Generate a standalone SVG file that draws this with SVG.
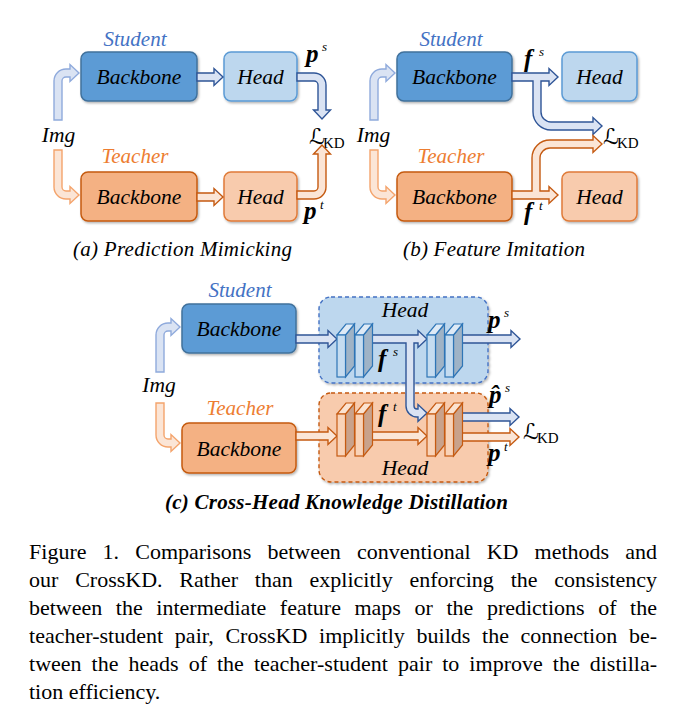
<svg xmlns="http://www.w3.org/2000/svg" width="685" height="715" viewBox="0 0 685 715" font-family="'Liberation Serif', 'Times New Roman', 'DejaVu Serif', serif">
<defs>
<filter id="sh" x="-10%" y="-10%" width="130%" height="140%">
<feDropShadow dx="1.2" dy="1.5" stdDeviation="1.2" flood-color="#000" flood-opacity="0.3"/>
</filter>
</defs>
<style>
text{fill:#000}
.it{font-style:italic;font-size:21.5px}
.mid{text-anchor:middle}
.stu{font-style:italic;font-size:21px;fill:#4472c4}
.tea{font-style:italic;font-size:21px;fill:#ed7d31}
.bi{font-style:italic;font-weight:bold;font-size:25px}
.sup{font-style:italic;font-size:13px}
.L{font-family:'DejaVu Serif','DejaVu Sans',serif;font-size:22px}
.kd{font-size:15px}
.cap{font-style:italic;font-size:21px}
.capb{font-style:italic;font-weight:bold;font-size:21px}
.main{font-size:22px}
.sb{fill:#5b9bd5;stroke:#41719c;stroke-width:1.5}
.sh{fill:#bdd7ee;stroke:#5b9bd5;stroke-width:1.5}
.tb{fill:#f4b183;stroke:#c55a11;stroke-width:1.5}
.th{fill:#f8cbad;stroke:#e07b39;stroke-width:1.5}
.ab{fill:#dae3f3;stroke:#2f5597;stroke-width:1.4}
.abl{fill:#dae3f3;stroke:#8faadc;stroke-width:1.4}
.ao{fill:#fbe5d6;stroke:#c55a11;stroke-width:1.4}
.aol{fill:#fbe5d6;stroke:#f4a46c;stroke-width:1.4}
.dsb{fill:#bdd7ee;stroke:#4472c4;stroke-width:1.4;stroke-dasharray:4 3}
.dtb{fill:#f8cbad;stroke:#c55a11;stroke-width:1.4;stroke-dasharray:4 3}
.bf-s{fill:#c5dcf0;stroke:#2e75b6;stroke-width:1.2}
.bt-s{fill:#deeaf6;stroke:#2e75b6;stroke-width:1.2}
.bs-s{fill:#9fb3c6;stroke:#2e75b6;stroke-width:1.2}
.bf-t{fill:#f9d3b8;stroke:#c55a11;stroke-width:1.2}
.bt-t{fill:#fbe3d1;stroke:#c55a11;stroke-width:1.2}
.bs-t{fill:#c9a28b;stroke:#c55a11;stroke-width:1.2}
</style>

<!-- ===== Panel (a) ===== -->
<g id="a-nodes">
<g id="a-student-label"><text class="stu mid" x="135" y="46">Student</text></g>
<g id="a-s-backbone"><rect class="sb" x="81" y="52" width="116" height="49" rx="7" filter="url(#sh)"/><text class="it mid" x="139" y="84">Backbone</text></g>
<g id="a-s-head"><rect class="sh" x="224" y="52" width="73" height="49" rx="7" filter="url(#sh)"/><text class="it mid" x="260.5" y="84">Head</text></g>
<g id="a-teacher-label"><text class="tea mid" x="135" y="163">Teacher</text></g>
<g id="a-t-backbone"><rect class="tb" x="81" y="172" width="116" height="49" rx="7" filter="url(#sh)"/><text class="it mid" x="139" y="204">Backbone</text></g>
<g id="a-t-head"><rect class="th" x="224" y="172" width="73" height="49" rx="7" filter="url(#sh)"/><text class="it mid" x="260.5" y="204">Head</text></g>
<g id="a-img"><text class="it mid" x="58.5" y="142">Img</text></g>
<g id="a-lkd"><text class="L" x="309" y="144">ℒ</text><text class="kd" x="323" y="148">KD</text></g>
<g id="a-ps"><text class="bi" x="306" y="62">p</text><text class="sup" x="322" y="51">s</text></g>
<g id="a-pt"><text class="bi" x="304" y="219">p</text><text class="sup" x="320" y="209">t</text></g>
</g>
<g id="a-connectors">
<path class="abl" d="M54,120 L54,81 A12,12 0 0 1 66,69 L70,69 L70,64.5 L79,73 L70,81.5 L70,77 L66,77 A4,4 0 0 0 62,81 L62,120 Z"/>
<path class="aol" d="M54,150 L54,187 A12,12 0 0 0 66,199 L70,199 L70,203.5 L79,195 L70,186.5 L70,191 L66,191 A4,4 0 0 1 62,187 L62,150 Z"/>
<path class="ab" d="M197,73 L214,73 L214,68.5 L223,77 L214,85.5 L214,81 L197,81 Z"/>
<path class="ao" d="M197,193 L214,193 L214,188.5 L223,197 L214,205.5 L214,201 L197,201 Z"/>
<path class="ab" d="M297,73 L314,73 A12,12 0 0 1 326,85 L326,110 L330.5,110 L322,119 L313.5,110 L318,110 L318,85 A4,4 0 0 0 314,81 L297,81 Z"/>
<path class="ao" d="M297,199 L314,199 A12,12 0 0 0 326,187 L326,154 L330.5,154 L322,145 L313.5,154 L318,154 L318,187 A4,4 0 0 1 314,191 L297,191 Z"/>
</g>
<text class="cap mid" x="182.5" y="256" textLength="219" lengthAdjust="spacing">(a) Prediction Mimicking</text>

<!-- ===== Panel (b) ===== -->
<g id="b-nodes">
<g id="b-student-label"><text class="stu mid" x="451" y="46">Student</text></g>
<g id="b-s-backbone"><rect class="sb" x="397" y="52" width="115" height="49" rx="7" filter="url(#sh)"/><text class="it mid" x="454.5" y="84">Backbone</text></g>
<g id="b-s-head"><rect class="sh" x="562" y="52" width="75" height="49" rx="7" filter="url(#sh)"/><text class="it mid" x="599.5" y="84">Head</text></g>
<g id="b-teacher-label"><text class="tea mid" x="451" y="163">Teacher</text></g>
<g id="b-t-backbone"><rect class="tb" x="397" y="172" width="115" height="49" rx="7" filter="url(#sh)"/><text class="it mid" x="454.5" y="204">Backbone</text></g>
<g id="b-t-head"><rect class="th" x="562" y="172" width="75" height="49" rx="7" filter="url(#sh)"/><text class="it mid" x="599.5" y="204">Head</text></g>
<g id="b-img"><text class="it mid" x="373.5" y="142">Img</text></g>
<g id="b-lkd"><text class="L" x="603" y="144">ℒ</text><text class="kd" x="617" y="148">KD</text></g>
<g id="b-fs"><text class="bi" x="524" y="67">f</text><text class="sup" x="539" y="56">s</text></g>
<g id="b-ft"><text class="bi" x="524" y="220">f</text><text class="sup" x="539" y="210">t</text></g>
</g>
<g id="b-connectors">
<path class="abl" d="M370,120 L370,81 A12,12 0 0 1 382,69 L386,69 L386,64.5 L395,73 L386,81.5 L386,77 L382,77 A4,4 0 0 0 378,81 L378,120 Z"/>
<path class="aol" d="M370,150 L370,187 A12,12 0 0 0 382,199 L386,199 L386,203.5 L395,195 L386,186.5 L386,191 L382,191 A4,4 0 0 1 378,187 L378,150 Z"/>
<path class="ab" d="M512,73 L549,73 L549,68.5 L558,77 L549,85.5 L549,81 L541,81 L541,112 A10,10 0 0 0 551,122 L593,122 L593,117.5 L602,126 L593,134.5 L593,130 L551,130 A18,18 0 0 1 533,112 L533,81 L512,81 Z"/>
<path class="ao" d="M512,199 L549,199 L549,203.5 L558,195 L549,186.5 L549,191 L540,191 L540,158 A10,10 0 0 1 550,148 L593,148 L593,152.5 L602,144 L593,135.5 L593,140 L550,140 A18,18 0 0 0 532,158 L532,191 L512,191 Z"/>
</g>
<text class="cap mid" x="494" y="256" textLength="182" lengthAdjust="spacing">(b) Feature Imitation</text>

<!-- ===== Panel (c) ===== -->
<g id="c-head-boxes">
<g id="c-s-headbox"><rect class="dsb" x="319" y="297" width="169" height="86" rx="12" filter="url(#sh)"/><text class="it mid" x="405" y="317">Head</text></g>
<g id="c-t-headbox"><rect class="dtb" x="319" y="393" width="169" height="89" rx="12" filter="url(#sh)"/><text class="it mid" x="405" y="475">Head</text></g>
</g>
<g id="c-nodes">
<g id="c-student-label"><text class="stu mid" x="240" y="297">Student</text></g>
<g id="c-s-backbone"><rect class="sb" x="182" y="304" width="114" height="49" rx="7" filter="url(#sh)"/><text class="it mid" x="239" y="336">Backbone</text></g>
<g id="c-teacher-label"><text class="tea mid" x="240" y="415">Teacher</text></g>
<g id="c-t-backbone"><rect class="tb" x="182" y="423" width="114" height="50" rx="7" filter="url(#sh)"/><text class="it mid" x="239" y="456">Backbone</text></g>
<g id="c-img"><text class="it mid" x="159" y="392">Img</text></g>
<g id="c-lkd"><text class="L" x="523" y="439">ℒ</text><text class="kd" x="537" y="443">KD</text></g>
<g id="c-ps"><text class="bi" x="488" y="328">p</text><text class="sup" x="504" y="317">s</text></g>
<g id="c-phs"><text class="bi" x="489" y="403">p̂</text><text class="sup" x="505" y="392">s</text></g>
<g id="c-pt"><text class="bi" x="488" y="461">p</text><text class="sup" x="504" y="451">t</text></g>
<g id="c-fs"><text class="bi" x="378" y="367">f</text><text class="sup" x="393" y="356">s</text></g>
<g id="c-ft"><text class="bi" x="378" y="422">f</text><text class="sup" x="393" y="411">t</text></g>
</g>
<g id="c-connectors">
<path class="abl" d="M156,372 L156,335 A12,12 0 0 1 168,323 L171,323 L171,318.5 L180,327 L171,335.5 L171,331 L168,331 A4,4 0 0 0 164,335 L164,372 Z"/>
<path class="aol" d="M156,403 L156,435 A12,12 0 0 0 168,447 L171,447 L171,451.5 L180,443 L171,434.5 L171,439 L168,439 A4,4 0 0 1 164,435 L164,403 Z"/>
<path class="ab" d="M296,335 L328,335 L328,330.5 L337,339 L328,347.5 L328,343 L296,343 Z"/>
<path class="ao" d="M296,432 L328,432 L328,427.5 L337,436 L328,444.5 L328,440 L296,440 Z"/>
<path class="ab" d="M366,335 L418,335 L418,330.5 L427,339 L418,347.5 L418,343 L414,343 L414,406 A3,3 0 0 0 417,409 L418,409 L418,404.5 L427,413 L418,421.5 L418,417 L417,417 A11,11 0 0 1 406,406 L406,343 L366,343 Z"/>
<path class="ao" d="M366,432 L418,432 L418,427.5 L427,436 L418,444.5 L418,440 L366,440 Z"/>
<path class="ab" d="M458,335 L511,335 L511,330.5 L520,339 L511,347.5 L511,343 L458,343 Z"/>
<path class="ab" d="M458,413 L510,413 L510,408.5 L519,417 L510,425.5 L510,421 L458,421 Z"/>
<path class="ao" d="M458,433 L510,433 L510,428.5 L519,437 L510,445.5 L510,441 L458,441 Z"/>
</g>
<g id="c-blocks">
<g id="c-s-block1"><polygon class="bs-s" points="345.5,335 354.5,324 354.5,366 345.5,377"/><polygon class="bt-s" points="337,335 346,324 354.5,324 345.5,335"/><rect class="bf-s" x="337" y="335" width="8.5" height="42"/></g>
<g id="c-s-block2"><polygon class="bs-s" points="363.5,335 372.5,324 372.5,366 363.5,377"/><polygon class="bt-s" points="355,335 364,324 372.5,324 363.5,335"/><rect class="bf-s" x="355" y="335" width="8.5" height="42"/></g>
<g id="c-s-block3"><polygon class="bs-s" points="435.5,335 444.5,324 444.5,366 435.5,377"/><polygon class="bt-s" points="427,335 436,324 444.5,324 435.5,335"/><rect class="bf-s" x="427" y="335" width="8.5" height="42"/></g>
<g id="c-s-block4"><polygon class="bs-s" points="453.5,335 462.5,324 462.5,366 453.5,377"/><polygon class="bt-s" points="445,335 454,324 462.5,324 453.5,335"/><rect class="bf-s" x="445" y="335" width="8.5" height="42"/></g>
<g id="c-t-block1"><polygon class="bs-t" points="345.5,414 354.5,403 354.5,445 345.5,456"/><polygon class="bt-t" points="337,414 346,403 354.5,403 345.5,414"/><rect class="bf-t" x="337" y="414" width="8.5" height="42"/></g>
<g id="c-t-block2"><polygon class="bs-t" points="363.5,414 372.5,403 372.5,445 363.5,456"/><polygon class="bt-t" points="355,414 364,403 372.5,403 363.5,414"/><rect class="bf-t" x="355" y="414" width="8.5" height="42"/></g>
<g id="c-t-block3"><polygon class="bs-t" points="435.5,414 444.5,403 444.5,445 435.5,456"/><polygon class="bt-t" points="427,414 436,403 444.5,403 435.5,414"/><rect class="bf-t" x="427" y="414" width="8.5" height="42"/></g>
<g id="c-t-block4"><polygon class="bs-t" points="453.5,414 462.5,403 462.5,445 453.5,456"/><polygon class="bt-t" points="445,414 454,403 462.5,403 453.5,414"/><rect class="bf-t" x="445" y="414" width="8.5" height="42"/></g>
</g>
<text class="capb mid" x="336.5" y="509" textLength="343" lengthAdjust="spacing">(c) Cross-Head Knowledge Distillation</text>

<!-- ===== Caption ===== -->
<g id="caption">
<text class="main" x="29" y="559" word-spacing="10.6" textLength="628" lengthAdjust="spacing">Figure 1. Comparisons between conventional KD methods and</text>
<text class="main" x="29" y="587" word-spacing="11.3" textLength="628" lengthAdjust="spacing">our CrossKD. Rather than explicitly enforcing the consistency</text>
<text class="main" x="29" y="615" word-spacing="8.1" textLength="628" lengthAdjust="spacing">between the intermediate feature maps or the predictions of the</text>
<text class="main" x="29" y="643" word-spacing="6.1" textLength="628" lengthAdjust="spacing">teacher-student pair, CrossKD implicitly builds the connection be-</text>
<text class="main" x="29" y="671" word-spacing="4.5" textLength="628" lengthAdjust="spacing">tween the heads of the teacher-student pair to improve the distilla-</text>
<text class="main" x="29" y="699">tion efficiency.</text>
</g>
</svg>
